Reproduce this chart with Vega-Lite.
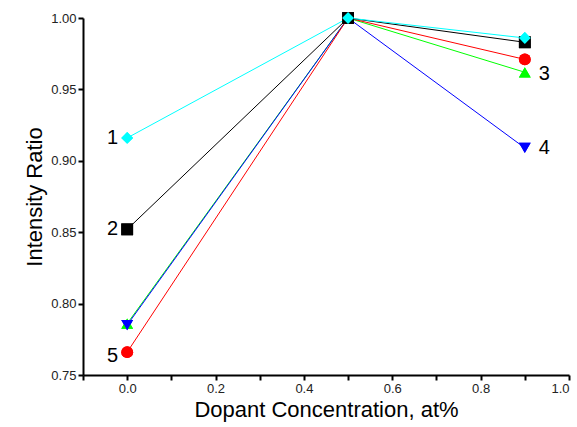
{
  "$schema": "https://vega.github.io/schema/vega-lite/v6.json",
  "width": 486,
  "height": 357,
  "autosize": {"type": "none"},
  "padding": {"left": 83, "top": 18, "right": 8, "bottom": 52},
  "config": {
    "view": {"stroke": null},
    "font": "Liberation Sans",
    "axis": {"grid": false, "domainColor": "black", "domainWidth": 2, "tickColor": "black", "tickWidth": 2, "tickSize": 5, "labelColor": "#222", "labelFontSize": 13, "titleFontSize": 22, "titleFontWeight": "normal", "titleColor": "black"}
  },
  "datasets": {
    "pts": [
      {"series": "3", "x": 0, "y": 0.786},
      {"series": "3", "x": 0.5, "y": 1.0},
      {"series": "3", "x": 0.9, "y": 0.962},
      {"series": "4", "x": 0, "y": 0.785},
      {"series": "4", "x": 0.5, "y": 1.0},
      {"series": "4", "x": 0.9, "y": 0.909},
      {"series": "5", "x": 0, "y": 0.766},
      {"series": "5", "x": 0.5, "y": 1.0},
      {"series": "5", "x": 0.9, "y": 0.971},
      {"series": "2", "x": 0, "y": 0.852},
      {"series": "2", "x": 0.5, "y": 1.0},
      {"series": "2", "x": 0.9, "y": 0.983},
      {"series": "1", "x": 0, "y": 0.916},
      {"series": "1", "x": 0.5, "y": 1.0},
      {"series": "1", "x": 0.9, "y": 0.986}
    ],
    "labels": [
      {"label": "1", "x": 0, "y": 0.916, "side": "left"},
      {"label": "2", "x": 0, "y": 0.852, "side": "left"},
      {"label": "5", "x": 0, "y": 0.763, "side": "left"},
      {"label": "3", "x": 0.9, "y": 0.961, "side": "right"},
      {"label": "4", "x": 0.9, "y": 0.909, "side": "right"}
    ]
  },
  "layer": [
    {
      "data": {"name": "pts"},
      "mark": {"type": "point", "filled": true, "opacity": 1, "size": 140},
      "encoding": {
        "x": {"field": "x", "type": "quantitative", "scale": {"domain": [-0.1, 1.0], "nice": false, "zero": false},
              "axis": {"title": "Dopant Concentration, at%", "values": [-0.1, 0, 0.1, 0.2, 0.3, 0.4, 0.5, 0.6, 0.7, 0.8, 0.9, 1.0],
                       "labelExpr": "abs(round(datum.value*10)) % 2 == 0 ? format(datum.value, '.1f') : ''"}},
        "y": {"field": "y", "type": "quantitative", "scale": {"domain": [0.75, 1.0], "nice": false, "zero": false},
              "axis": {"title": "Intensity Ratio", "values": [0.75, 0.775, 0.8, 0.825, 0.85, 0.875, 0.9, 0.925, 0.95, 0.975, 1.0],
                       "labelExpr": "round(datum.value*1000) % 50 == 0 ? format(datum.value, '.2f') : ''"}},
        "color": {"field": "series", "type": "nominal", "legend": null,
                  "scale": {"domain": ["1", "2", "3", "4", "5"], "range": ["#00FFFF", "#000000", "#00FF00", "#0000FF", "#FF0000"]}},
        "shape": {"field": "series", "type": "nominal", "legend": null,
                  "scale": {"domain": ["1", "2", "3", "4", "5"], "range": ["diamond", "square", "triangle-up", "triangle-down", "circle"]}}
      }
    },
    {
      "data": {"name": "pts"},
      "mark": {"type": "line", "strokeWidth": 1},
      "encoding": {
        "x": {"field": "x", "type": "quantitative"},
        "y": {"field": "y", "type": "quantitative"},
        "color": {"field": "series", "type": "nominal"},
        "detail": {"field": "series"}
      }
    },
    {
      "data": {"name": "pts"},
      "mark": {"type": "point", "filled": true, "opacity": 1, "size": 140},
      "encoding": {
        "x": {"field": "x", "type": "quantitative"},
        "y": {"field": "y", "type": "quantitative"},
        "color": {"field": "series", "type": "nominal"},
        "shape": {"field": "series", "type": "nominal"}
      }
    },
    {
      "data": {"name": "labels"},
      "transform": [{"filter": "datum.side == 'left'"}],
      "mark": {"type": "text", "align": "right", "baseline": "middle", "dx": -9, "fontSize": 20, "color": "black"},
      "encoding": {
        "x": {"field": "x", "type": "quantitative"},
        "y": {"field": "y", "type": "quantitative"},
        "text": {"field": "label"}
      }
    },
    {
      "data": {"name": "labels"},
      "transform": [{"filter": "datum.side == 'right'"}],
      "mark": {"type": "text", "align": "left", "baseline": "middle", "dx": 14, "fontSize": 20, "color": "black"},
      "encoding": {
        "x": {"field": "x", "type": "quantitative"},
        "y": {"field": "y", "type": "quantitative"},
        "text": {"field": "label"}
      }
    }
  ]
}
